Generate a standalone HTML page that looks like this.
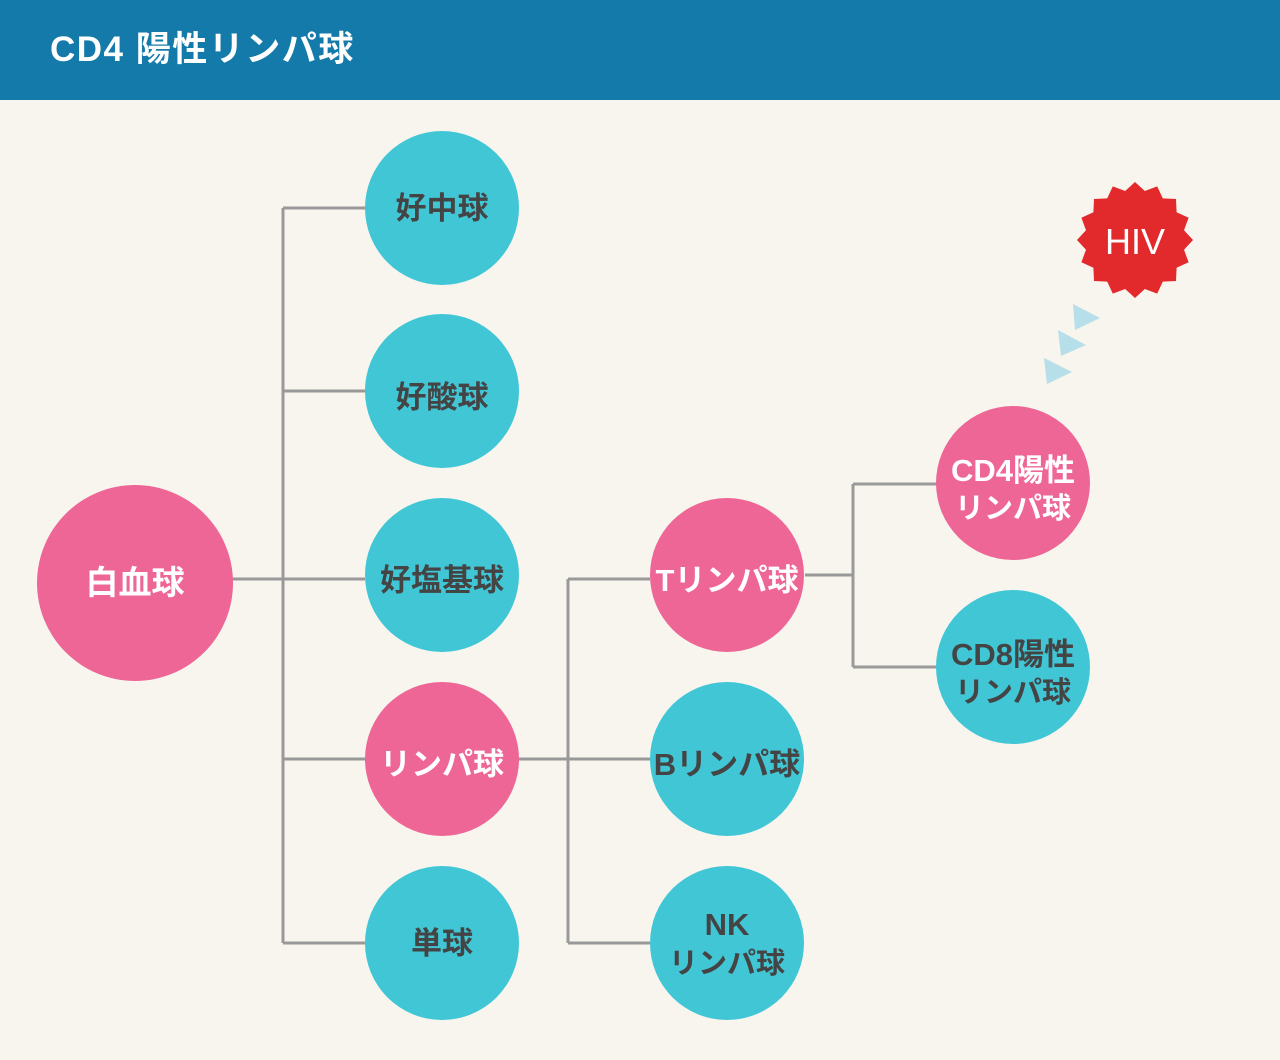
<!DOCTYPE html>
<html><head><meta charset="utf-8"><style>
body{margin:0;width:1280px;height:1060px;background:#f7f5ee;overflow:hidden;font-family:"Liberation Sans","Noto Sans CJK JP",sans-serif}
.h{position:absolute;left:0;top:0;width:1280px;height:100px;background:#137aa9;color:#fff;font-weight:bold;font-size:35px;letter-spacing:1.5px;line-height:100px;padding-left:50px;box-sizing:border-box}
</style></head><body>
<div class="h">CD4 陽性リンパ球</div>
<svg width="1280" height="1060" style="position:absolute;left:0;top:0" font-family="Liberation Sans, Noto Sans CJK JP, sans-serif" font-weight="bold" text-anchor="middle">
<g stroke="#999" stroke-width="3" fill="none">
<path d="M230 579H365M283 208V943M283 208H365M283 391H365M283 759H365M283 943H365"/>
<path d="M519 759H650M568 579V943M568 579H650M568 943H650"/>
<path d="M805 575H853M853 484V667M853 484H937M853 667H937"/>
</g>
<circle cx="135" cy="583" r="98" fill="#ee6696"/>
<g fill="#41c6d6">
<circle cx="442" cy="208" r="77"/><circle cx="442" cy="391" r="77"/><circle cx="442" cy="575" r="77"/><circle cx="442" cy="943" r="77"/>
<circle cx="727" cy="759" r="77"/><circle cx="727" cy="943" r="77"/><circle cx="1013" cy="667" r="77"/>
</g>
<g fill="#ee6696">
<circle cx="442" cy="759" r="77"/><circle cx="727" cy="575" r="77"/><circle cx="1013" cy="483" r="77"/>
</g>
<g font-size="31" fill="#444">
<text x="442" y="219">好中球</text><text x="442" y="408">好酸球</text><text x="442" y="591">好塩基球</text><text x="442" y="954">単球</text>
<text x="727" y="775">Bリンパ球</text><text x="727" y="935">NK</text><text x="727" y="973" font-size="29">リンパ球</text>
<text x="1013" y="665">CD8陽性</text><text x="1013" y="702" font-size="29">リンパ球</text>
</g>
<g font-size="31" fill="#fff">
<text x="135" y="594" font-size="33">白血球</text><text x="442" y="775">リンパ球</text><text x="727" y="591">Tリンパ球</text>
<text x="1013" y="481">CD4陽性</text><text x="1013" y="518" font-size="29">リンパ球</text>
</g>
<polygon id="s" fill="#e2292b" points=""/>
<g fill="#b7dfea">
<polygon points="1073,304 1100,318 1075,330"/><polygon points="1058,330 1086,345 1061,356"/><polygon points="1044,358 1072,372 1047,384"/>
</g>
<text x="1135" y="254" font-size="36" fill="#fff" font-weight="normal">HIV</text>
</svg>
<script>
var p=[],n=16;for(var i=0;i<2*n;i++){var a=Math.PI*i/n,r=i%2?50:58;p.push((1135+r*Math.sin(a)).toFixed(1)+","+(240-r*Math.cos(a)).toFixed(1));}
document.getElementById("s").setAttribute("points",p.join(" "));
</script>
</body></html>
